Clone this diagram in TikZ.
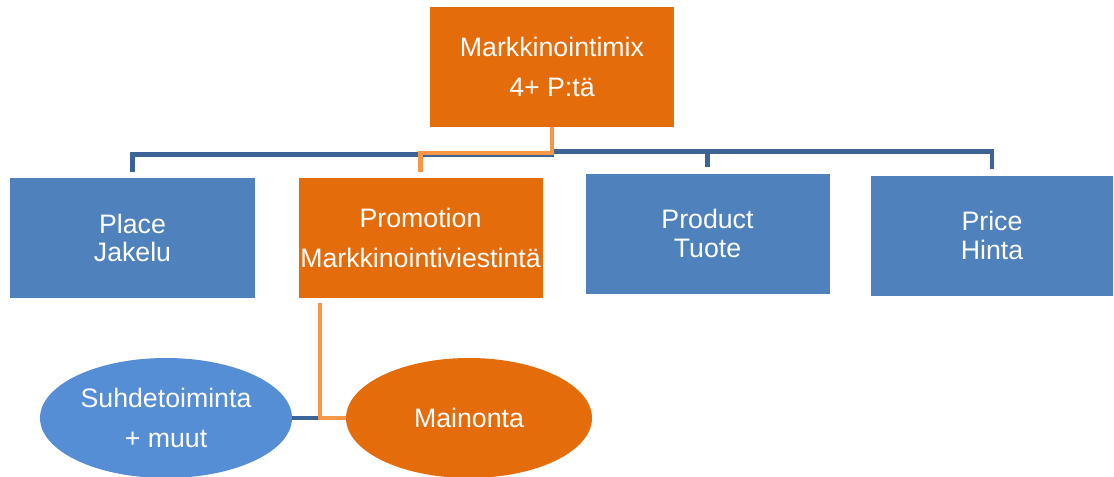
\documentclass[tikz,border=0pt]{standalone}
\usepackage{fontspec}
\setmainfont{Liberation Sans}
\usetikzlibrary{positioning}
\usetikzlibrary{shapes.geometric}
\definecolor{mixorange}{RGB}{228,108,10}
\definecolor{mixblue}{RGB}{79,129,189}
\definecolor{ellblue}{RGB}{85,142,213}
\definecolor{linkblue}{RGB}{60,100,150}
\definecolor{linkorange}{RGB}{247,150,70}

\tikzset{
  pbox/.style={rectangle,fill=#1,text=white,minimum width=6.1cm,minimum height=3cm,
    align=center,inner sep=0pt,font=\fontsize{19}{28}\selectfont},
  tight/.style={font=\fontsize{19}{20}\selectfont},
  pell/.style={ellipse,fill=#1,text=white,minimum width=6.25cm,minimum height=3cm,
    align=center,inner sep=0pt,font=\fontsize{19}{28}\selectfont},
  bluelink/.style={draw=linkblue,line width=3.5pt},
  orangelink/.style={draw=linkorange,line width=3pt}
}

\begin{document}
\begin{tikzpicture}
  \useasboundingbox (0,0) rectangle (27.85,-11.925);

  \node[pbox=mixorange] (Mix) at (13.8, -1.675) {Markkinointimix\\4+ P:tä};

  \node[pbox=mixblue,tight] (Place) at (3.3125, -5.95) {Place\\Jakelu};
  \node[pbox=mixorange] (Promo) at (10.5125, -5.95) {Promotion\\Markkinointiviestintä};
  \node[pbox=mixblue,tight] (Product) at (17.6875, -5.8375) {Product\\Tuote};
  \node[pbox=mixblue,tight,minimum width=6.05cm] (Price) at (24.8, -5.8875) {Price\\Hinta};

  \node[pell=ellblue,minimum width=6.3cm] (Suhde) at (4.15, -10.45) {Suhdetoiminta\\+ muut};
  \node[pell=mixorange,minimum width=6.15cm] (Mainos) at (11.725, -10.45) {Mainonta};

  \draw[bluelink,shorten >=0.15cm] (Mix.south) -- ++(0,-0.675) -| (Place.north);
  \draw[bluelink,shorten >=0.15cm] (Mix.south) -- ++(0,-0.6) -| (Product.north);
  \draw[bluelink,shorten >=0.15cm] (Mix.south) -- ++(0,-0.6) -| (Price.north);
  \draw[orangelink,shorten >=0.15cm] (Mix.south) -- ++(0,-0.65) -| (Promo.north);

  \draw[bluelink] (Suhde.east) -- (Mainos.west);
  \draw[orangelink] ([xshift=0.55cm,yshift=-0.12cm]Promo.south west) |- (Mainos.west);
\end{tikzpicture}
\end{document}
